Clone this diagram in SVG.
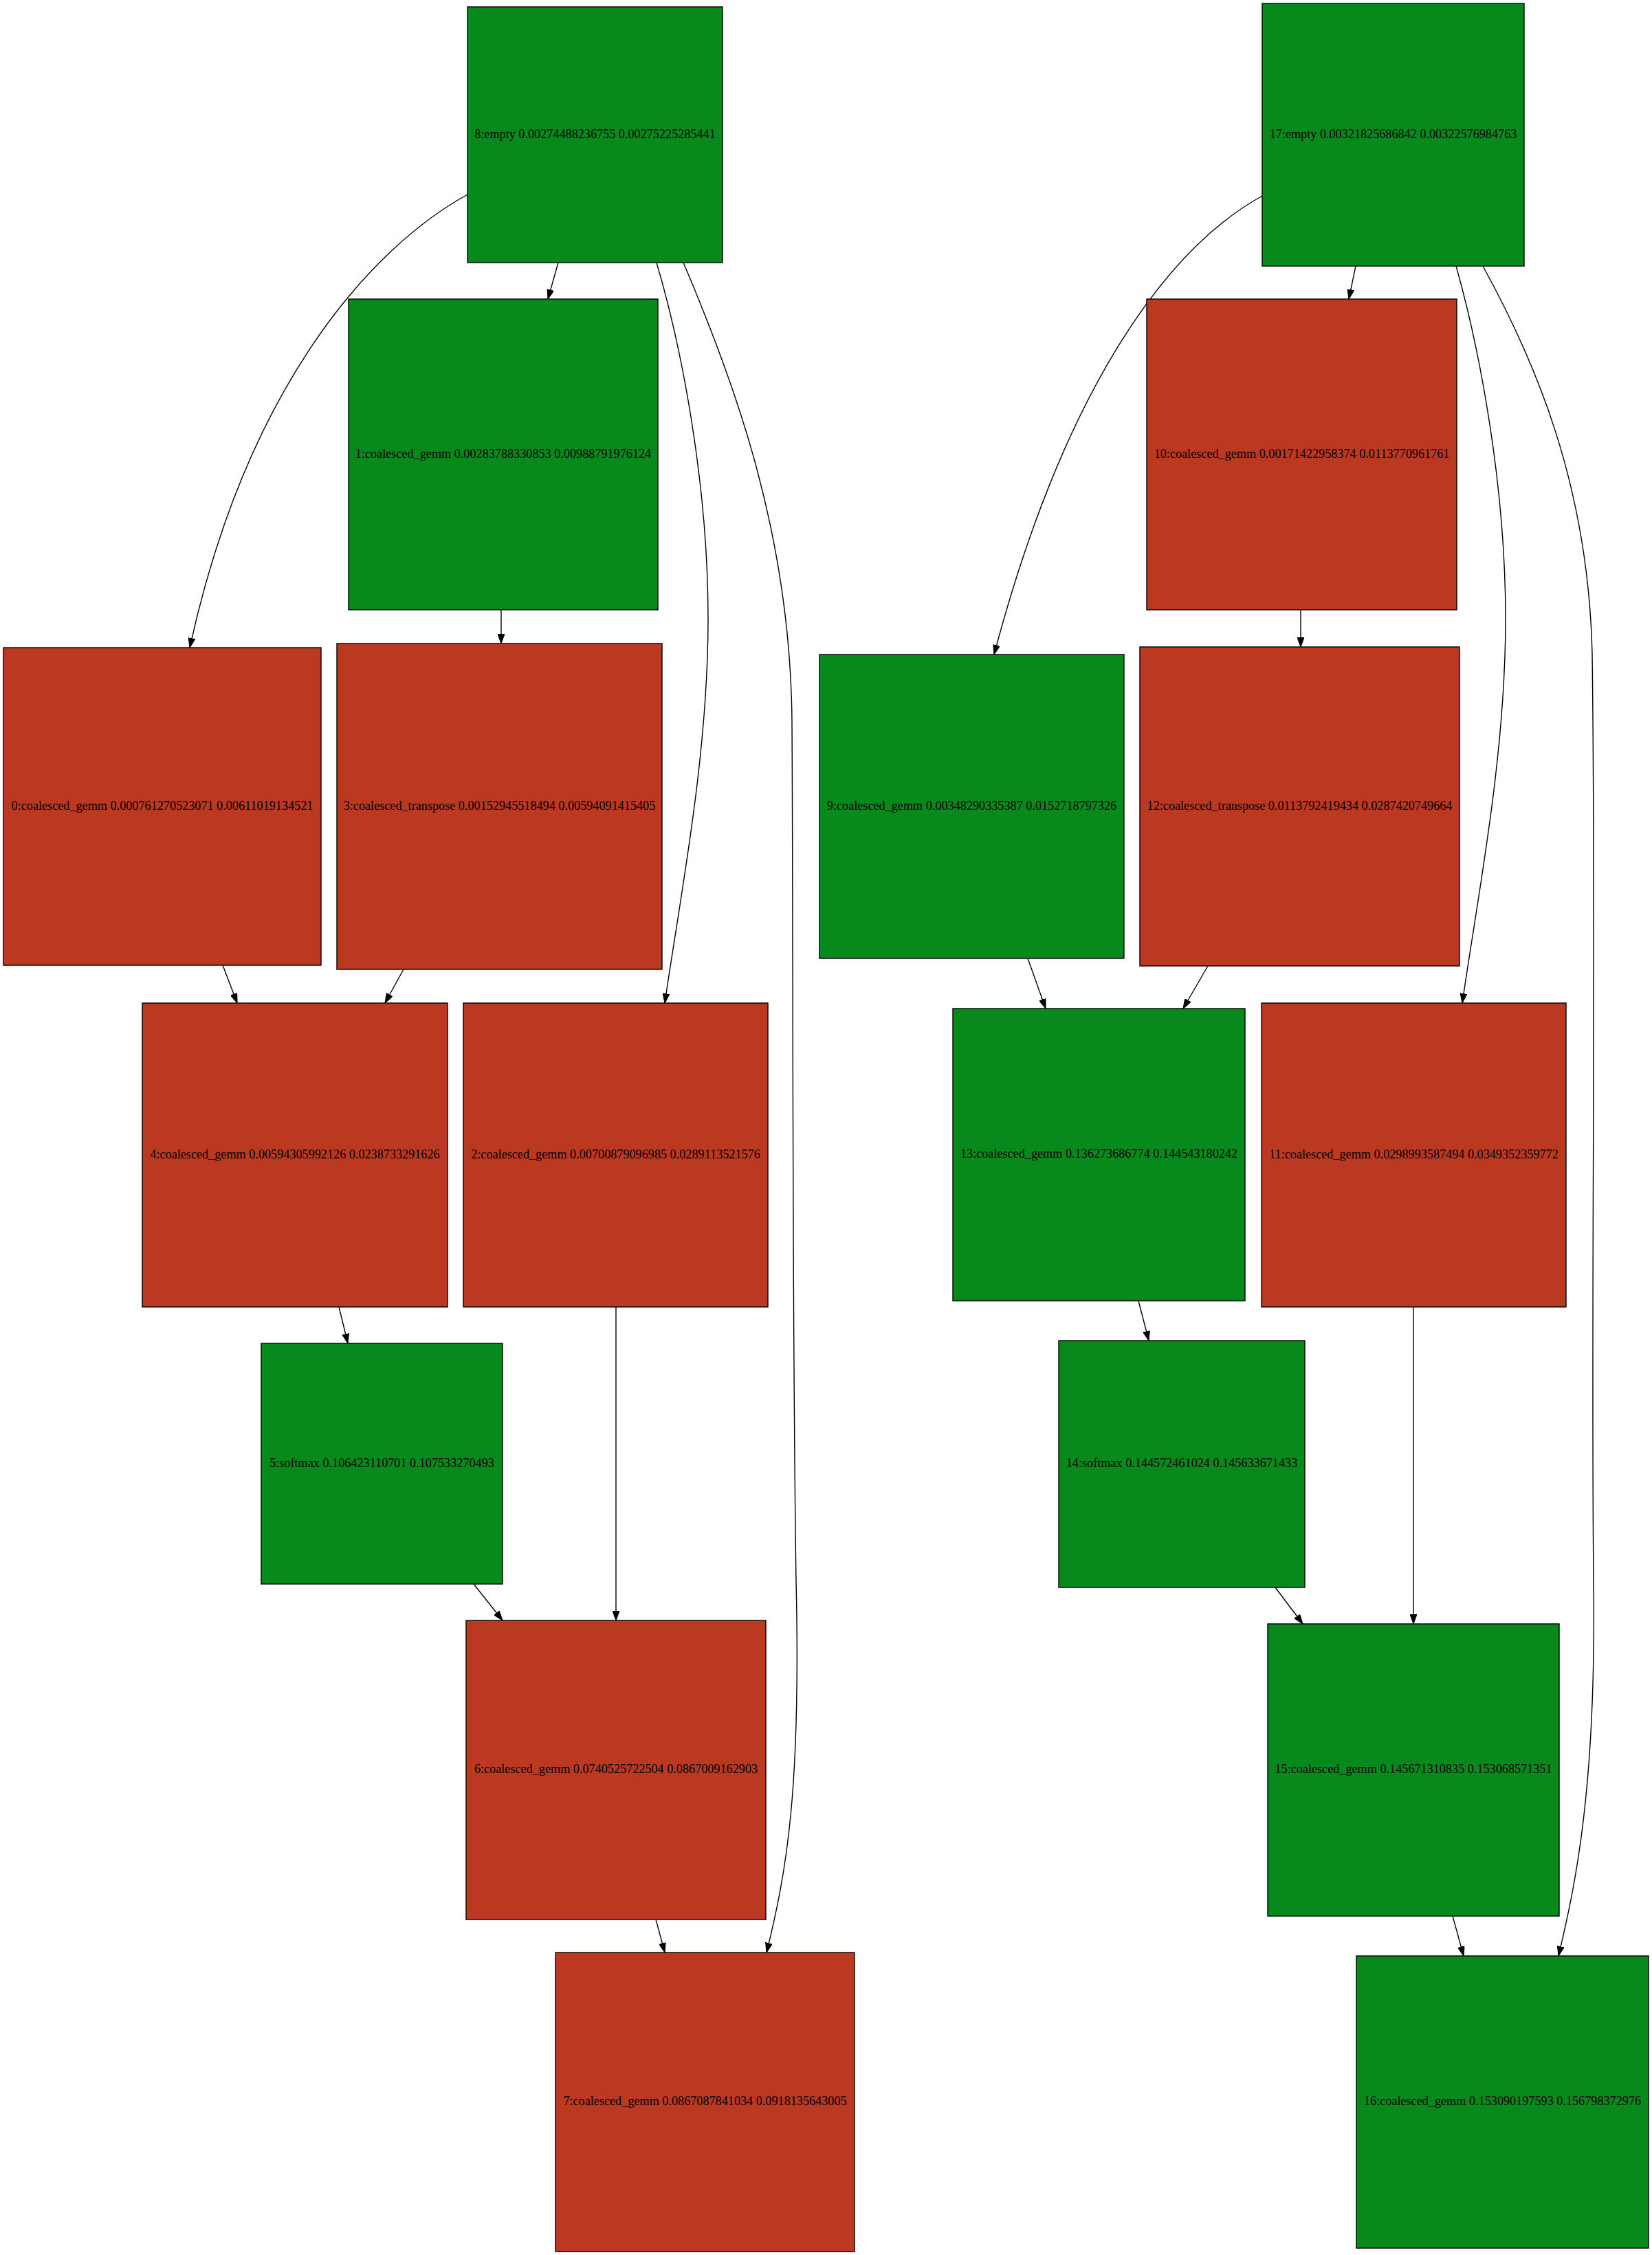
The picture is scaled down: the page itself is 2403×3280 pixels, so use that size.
<svg xmlns="http://www.w3.org/2000/svg" width="2403" height="3280" viewBox="0 0 2403 3280">
<style>
.g{fill:#078a1b;stroke:#000;stroke-width:1.4}
.r{fill:#bb3920;stroke:#000;stroke-width:1.4}
text{font-family:"Liberation Serif","Times New Roman",serif;font-size:18.2px;fill:#000;text-anchor:middle}
.e{fill:none;stroke:#000;stroke-width:1.4;marker-end:url(#ah)}
</style>
<defs>
<marker id="ah" markerUnits="userSpaceOnUse" markerWidth="14" markerHeight="10" viewBox="0 0 13 9.2" refX="13" refY="4.6" orient="auto">
<path d="M0,0 L13,4.6 L0,9.2 Z" fill="#000" stroke="#000" stroke-width="1"/>
</marker>
</defs>
<rect x="0" y="0" width="2403" height="3280" fill="#fff"/>
<g id="connectors">
<path class="e" d="M812,382 L797,435"/>
<path class="e" d="M680,283 C540,360 360,560 276,942"/>
<path class="e" d="M955,382 C990,500 1030,700 1030,900 C1030,1100 990,1300 967,1459"/>
<path class="e" d="M994,382 C1070,560 1150,780 1152,1050 C1154,1400 1152,1900 1158,2300 C1165,2600 1145,2720 1115,2840"/>
<path class="e" d="M729,887 L729,936"/>
<path class="e" d="M324,1404 L345,1459"/>
<path class="e" d="M587,1410 L560,1459"/>
<path class="e" d="M493,1901 L506,1954"/>
<path class="e" d="M896,1901 L896,2357"/>
<path class="e" d="M689,2304 L731,2357"/>
<path class="e" d="M954,2792 L967,2840"/>
<path class="e" d="M1972,387 L1962,435"/>
<path class="e" d="M1836,285 C1700,360 1550,560 1446,952"/>
<path class="e" d="M2118,387 C2150,500 2190,700 2190,900 C2190,1100 2150,1300 2127,1459"/>
<path class="e" d="M2157,387 C2230,520 2310,700 2316,950 C2322,1400 2314,1900 2318,2300 C2322,2600 2292,2740 2267,2845"/>
<path class="e" d="M1892,887 L1892,941"/>
<path class="e" d="M1495,1394 L1521,1467"/>
<path class="e" d="M1757,1405 L1721,1467"/>
<path class="e" d="M1656,1892 L1671,1950"/>
<path class="e" d="M2056,1901 L2056,2362"/>
<path class="e" d="M1855,2309 L1895,2362"/>
<path class="e" d="M2113,2787 L2129,2845"/>
</g>
<g id="node8"><rect class="g" x="680" y="10" width="371" height="372"/><text x="865.5" y="200.5">8:empty 0.00274488236755 0.00275225285441</text></g>
<g id="node17"><rect class="g" x="1836" y="5" width="381" height="382"/><text x="2026.5" y="200.5">17:empty 0.00321825686842 0.00322576984763</text></g>
<g id="node1"><rect class="g" x="507" y="435" width="450" height="452"/><text x="732" y="665.5">1:coalesced_gemm 0.00283788330853 0.00988791976124</text></g>
<g id="node10"><rect class="r" x="1668" y="435" width="451" height="452"/><text x="1893.5" y="665.5">10:coalesced_gemm 0.00171422958374 0.0113770961761</text></g>
<g id="node0"><rect class="r" x="5" y="942" width="462" height="462"/><text x="236" y="1177.5">0:coalesced_gemm 0.000761270523071 0.00611019134521</text></g>
<g id="node3"><rect class="r" x="490" y="936" width="473" height="474"/><text x="726.5" y="1177.5">3:coalesced_transpose 0.00152945518494 0.00594091415405</text></g>
<g id="node9"><rect class="g" x="1192" y="952" width="443" height="442"/><text x="1413.5" y="1177.5">9:coalesced_gemm 0.00348290335387 0.0152718797326</text></g>
<g id="node12"><rect class="r" x="1658" y="941" width="465" height="464"/><text x="1890.5" y="1177.5">12:coalesced_transpose 0.0113792419434 0.0287420749664</text></g>
<g id="node4"><rect class="r" x="207" y="1459" width="444" height="442"/><text x="429" y="1684.5">4:coalesced_gemm 0.00594305992126 0.0238733291626</text></g>
<g id="node2"><rect class="r" x="674" y="1459" width="443" height="442"/><text x="895.5" y="1684.5">2:coalesced_gemm 0.00700879096985 0.0289113521576</text></g>
<g id="node13"><rect class="g" x="1386" y="1467" width="425" height="425"/><text x="1598.5" y="1684">13:coalesced_gemm 0.136273686774 0.144543180242</text></g>
<g id="node11"><rect class="r" x="1835" y="1459" width="443" height="442"/><text x="2056.5" y="1684.5">11:coalesced_gemm 0.0298993587494 0.0349352359772</text></g>
<g id="node5"><rect class="g" x="380" y="1954" width="351" height="350"/><text x="555.5" y="2133.5">5:softmax 0.106423110701 0.107533270493</text></g>
<g id="node14"><rect class="g" x="1540" y="1950" width="358" height="359"/><text x="1719" y="2134">14:softmax 0.144572461024 0.145633671433</text></g>
<g id="node6"><rect class="r" x="678" y="2357" width="436" height="435"/><text x="896" y="2579">6:coalesced_gemm 0.0740525722504 0.0867009162903</text></g>
<g id="node15"><rect class="g" x="1844" y="2362" width="424" height="425"/><text x="2056" y="2579">15:coalesced_gemm 0.145671310835 0.153068571351</text></g>
<g id="node7"><rect class="r" x="808" y="2840" width="435" height="435"/><text x="1025.5" y="3062">7:coalesced_gemm 0.0867087841034 0.0918135643005</text></g>
<g id="node16"><rect class="g" x="1973" y="2845" width="425" height="425"/><text x="2185.5" y="3062">16:coalesced_gemm 0.153090197593 0.156798372976</text></g>
</svg>
